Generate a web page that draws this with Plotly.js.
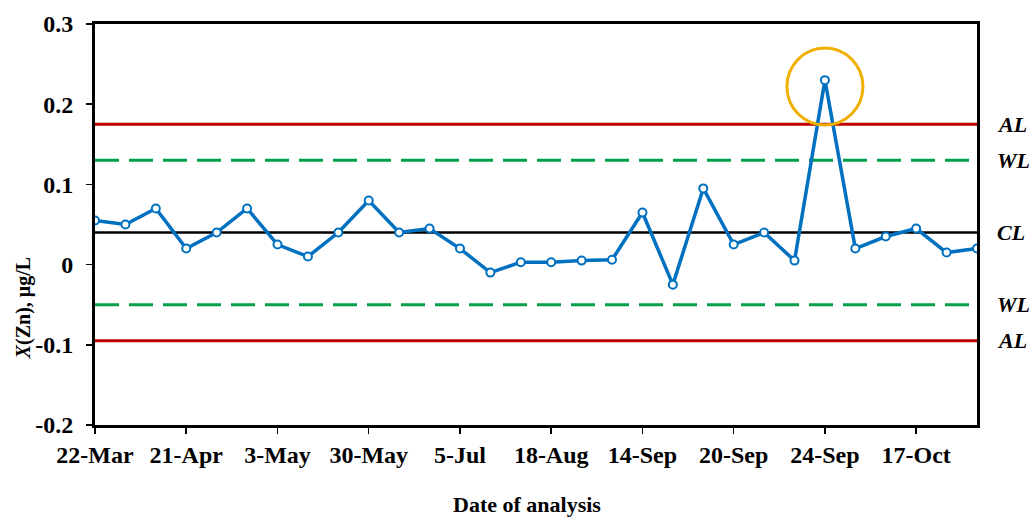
<!DOCTYPE html>
<html>
<head>
<meta charset="utf-8">
<script src="https://cdn.plot.ly/plotly-3.0.1.min.js"></script>
<style>html,body{margin:0;padding:0;background:#fff}#chart{width:1035px;height:521px}</style>
</head>
<body>
<div id="chart"></div>
<script>
// Data
const dates = ["22-Mar","21-Apr","3-May","30-May","5-Jul","18-Aug","14-Sep","20-Sep","24-Sep","17-Oct"];
const tickIndex = [0,3,6,9,12,15,18,21,24,27];
const values = [0.055,0.05,0.07,0.02,0.04,0.07,0.025,0.01,0.04,0.08,
                0.04,0.045,0.02,-0.01,0.003,0.003,0.005,0.006,0.065,-0.025,
                0.095,0.025,0.04,0.005,0.23,0.02,0.035,0.045,0.015,0.02];
const limitNames = ["AL","WL","CL","WL","AL"];
const limitValues = [0.175,0.13,0.04,-0.05,-0.095];
const yTicks = [0.3,0.2,0.1,0,-0.1,-0.2];
const yTickText = ["0.3","0.2","0.1","0","-0.1","-0.2"];
const outlierIndex = 24;

const xIdx = values.map((_, i) => i);
const xMax = values.length - 1;

const limitStyle = {
  AL: {color: "#C00000", width: 3, dash: "solid"},
  WL: {color: "#00A04A", width: 3, dash: "24px,10px"},
  CL: {color: "#000000", width: 2.5, dash: "solid"}
};

const traces = limitNames.map((n, i) => ({
  type: "scatter", mode: "lines",
  x: [0, xMax], y: [limitValues[i], limitValues[i]],
  line: limitStyle[n], hoverinfo: "skip", showlegend: false
}));

traces.push({
  type: "scatter", mode: "lines+markers",
  x: xIdx, y: values,
  line: {color: "#0070C0", width: 3.5},
  marker: {symbol: "circle", size: 8, color: "#FFFFFF", line: {color: "#0070C0", width: 2}},
  showlegend: false
});

const font = {family: "Liberation Serif, Times New Roman, serif", color: "#000"};

const annotations = limitNames.map((n, i) => ({
  xref: "paper", yref: "y", x: 1.02, y: limitValues[i],
  xanchor: "left", yanchor: "middle", showarrow: false,
  text: "<b><i>" + n + "</i></b>",
  font: Object.assign({size: 22}, font)
}));
annotations.push({
  xref: "paper", yref: "paper", x: -0.081, y: 0.29,
  xanchor: "center", yanchor: "middle", showarrow: false, textangle: -90,
  text: "<b><i>X</i>(Zn), μg/L</b>",
  font: Object.assign({size: 20}, font)
});
annotations.push({
  xref: "paper", yref: "paper", x: 0.49, y: -0.198,
  xanchor: "center", yanchor: "middle", showarrow: false,
  text: "<b>Date of analysis</b>",
  font: Object.assign({size: 22}, font)
});

const r = 1.25;
const layout = {
  width: 1035, height: 521,
  margin: {l: 95, r: 58, t: 24, b: 96},
  paper_bgcolor: "#fff", plot_bgcolor: "#fff",
  font: font,
  xaxis: {
    range: [0, xMax], tickmode: "array", tickvals: tickIndex, ticktext: dates,
    ticks: "outside", ticklen: 6, tickwidth: 1.5, tickcolor: "#000",
    showline: true, linecolor: "#000", linewidth: 3, mirror: true,
    showgrid: false, zeroline: false,
    tickfont: Object.assign({size: 24, weight: "bold"}, font)
  },
  yaxis: {
    range: [-0.2, 0.3], tickmode: "array", tickvals: yTicks, ticktext: yTickText,
    ticks: "outside", ticklen: 6, tickwidth: 1.5, tickcolor: "#000",
    ticklabelstandoff: 8,
    showline: true, linecolor: "#000", linewidth: 3, mirror: true,
    showgrid: false, zeroline: false,
    tickfont: Object.assign({size: 24, weight: "bold"}, font)
  },
  shapes: [{
    type: "circle", xref: "x", yref: "y",
    x0: outlierIndex - r, x1: outlierIndex + r,
    y0: values[outlierIndex] - 0.056, y1: values[outlierIndex] + 0.04,
    line: {color: "#F0B000", width: 3}
  }],
  annotations: annotations
};

Plotly.newPlot("chart", traces, layout, {displayModeBar: false, staticPlot: true});
</script>
</body>
</html>
